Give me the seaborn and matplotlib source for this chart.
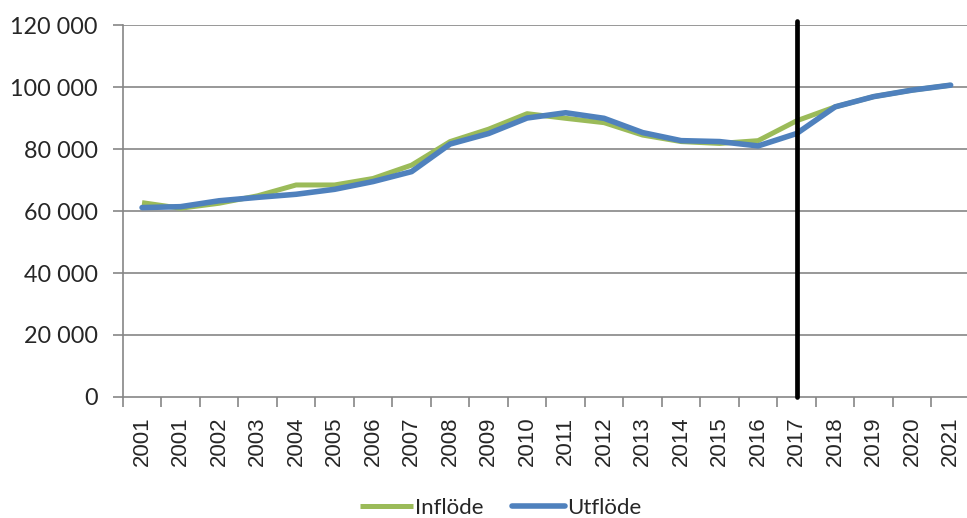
import matplotlib
matplotlib.use("Agg")
import matplotlib.pyplot as plt
import numpy as np
import pandas as pd
import seaborn as sns
from matplotlib.ticker import FuncFormatter, FixedLocator

# x labels as printed in the chart (2001 appears twice)
year_labels = ["2001", "2001", "2002", "2003", "2004", "2005", "2006", "2007",
               "2008", "2009", "2010", "2011", "2012", "2013", "2014", "2015",
               "2016", "2017", "2018", "2019", "2020", "2021"]

inflode = [62700, 60900, 62500, 64900, 68400, 68400, 70500, 74800,
           82400, 86400, 91400, 89900, 88500, 84500, 82400, 81800,
           82700, 89100, 93600, 96900, 99000, 100600]

utflode = [61100, 61400, 63300, 64400, 65400, 67000, 69500, 72700,
           81600, 85000, 90000, 91700, 89900, 85300, 82700, 82400,
           81000, 85000, 93600, 96900, 99000, 100600]

marker_year = "2017"

sns.set_style("white")
plt.rcParams['font.family'] = ['Lato', 'DejaVu Sans']

pos = np.arange(len(year_labels))
df = pd.DataFrame({
    "pos": np.concatenate([pos, pos]),
    "value": inflode + utflode,
    "serie": ["Inflöde"] * len(pos) + ["Utflöde"] * len(pos),
})

fig = plt.figure(figsize=(9.67, 5.18), dpi=100)
ax = fig.add_axes([0.127, 0.2336, 0.876, 0.7181])

grid_col = "#868686"
for y in range(20000, 120001, 20000):
    ax.axhline(y, color=grid_col, lw=1.2, zorder=0)

sns.lineplot(data=df[df.serie == "Inflöde"], x="pos", y="value", color="#9BBB59",
             lw=3.6, ax=ax, label="Inflöde", solid_capstyle="butt")
sns.lineplot(data=df[df.serie == "Utflöde"], x="pos", y="value", color="#4F81BD",
             lw=4.0, ax=ax, label="Utflöde", solid_capstyle="round")

ax.axvline(year_labels.index(marker_year), color="black", lw=3.4, ymin=0, ymax=1.01,
           clip_on=False, zorder=5)

ax.set_xlim(-0.5, len(year_labels) - 0.5)
ax.set_ylim(0, 120000)
ax.set_xlabel("")
ax.set_ylabel("")

ax.set_xticks(pos)
ax.set_xticklabels(year_labels, rotation=90, fontsize=16, family="Liberation Sans")
ax.xaxis.set_minor_locator(FixedLocator(np.arange(-0.5, len(year_labels), 1)))
ax.tick_params(axis="x", which="major", length=0, pad=14)
ax.tick_params(axis="x", which="minor", length=7, color=grid_col, width=1.2, direction="out")
ax.xaxis.set_ticks_position("bottom")

ax.set_yticks(range(0, 120001, 20000))
ax.yaxis.set_major_formatter(FuncFormatter(lambda v, p: f"{int(v):,}".replace(",", " ")))
ax.tick_params(axis="y", length=7, color=grid_col, width=1.2, labelsize=16.8, pad=11, left=True)

for side in ["top", "right"]:
    ax.spines[side].set_visible(False)
for side in ["left", "bottom"]:
    ax.spines[side].set_color(grid_col)
    ax.spines[side].set_linewidth(1.2)

ax.legend(loc="center", bbox_to_anchor=(0.446, -0.298), ncol=2, frameon=False,
          fontsize=16, handlelength=2.4, handletextpad=0.1, columnspacing=1.25,
          borderpad=0)

fig.savefig("out.png", dpi=100)
